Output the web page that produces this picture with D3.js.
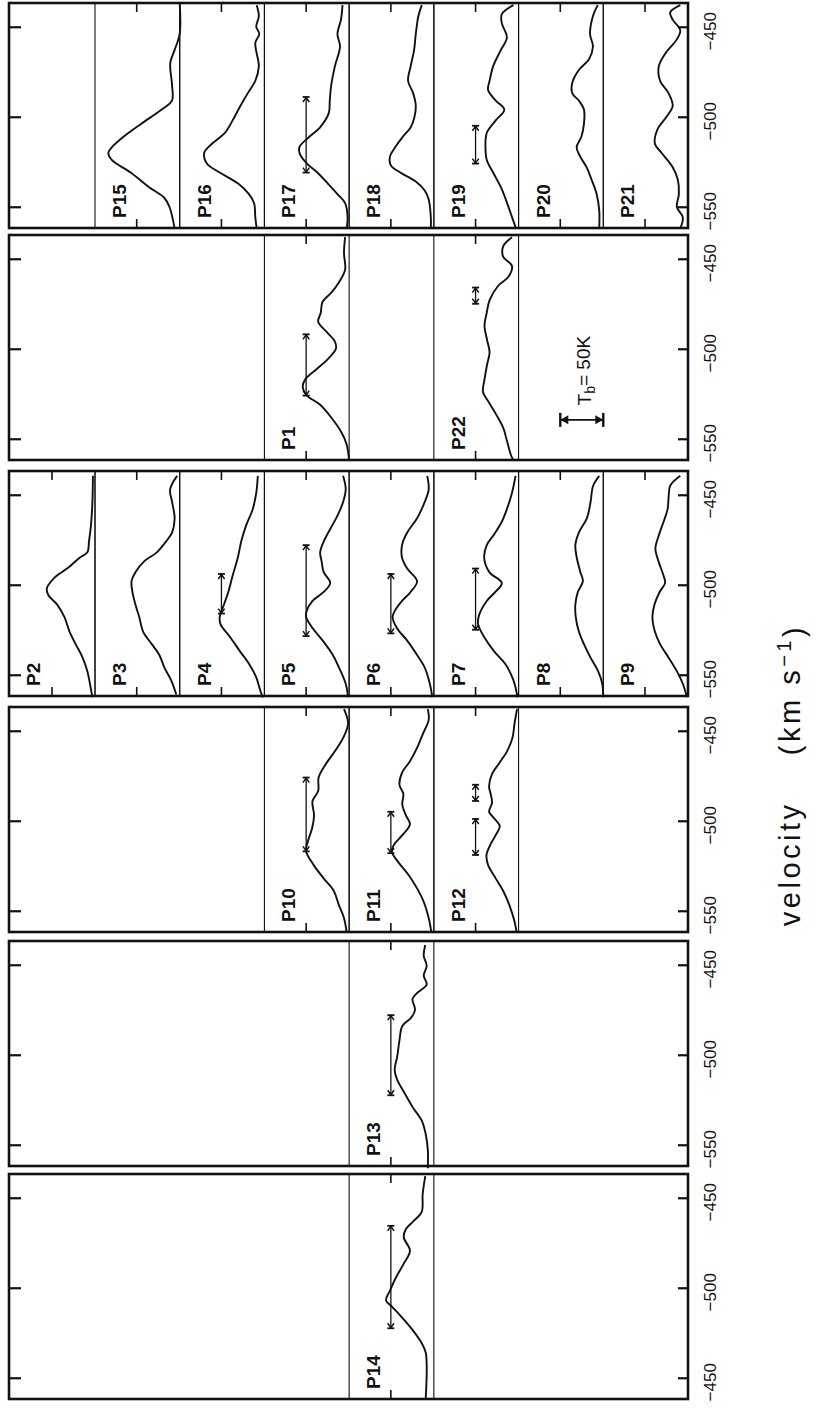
<!DOCTYPE html>
<html><head><meta charset="utf-8">
<script src="https://cdn.jsdelivr.net/npm/d3@7"></script>
<style>body{margin:0;background:#fff}svg{display:block}</style>
</head><body><svg id="c" width="817" height="1408"></svg>
<script>
// ---------- DATA : [velocity km/s, Tb K] ----------
const p1  = [[-438,4.7],[-447,6],[-456,4.7],[-463,11.8],[-469,21],[-474,31],[-480,33],[-485,36],[-491,25.4],[-496,16.6],[-500,15.4],[-506,25.4],[-511,37],[-517,51],[-521,54],[-526,49],[-531,34],[-539,19.5],[-546,9.5],[-553,3],[-562,0]];
const p2  = [[-439.5,2.4],[-454,3],[-467,4.7],[-476,7],[-482,8.9],[-485,17.8],[-491,32.5],[-496,47],[-502,56],[-506,54],[-511,44],[-518,35.5],[-526,29.6],[-533,22.5],[-540,14.8],[-548,8.9],[-555,5.9],[-562.5,3]];
const p3  = [[-439.5,3],[-447,11.2],[-454,8.9],[-463,5.9],[-471,8.9],[-476,16],[-482,26.6],[-487,41.4],[-493,51.5],[-498,56],[-504,55],[-511,51.5],[-518,47],[-526,42.6],[-533,32.5],[-539,23.7],[-546,17.8],[-553,10],[-561,4]];
const p4  = [[-439.5,7.7],[-449,9.5],[-458,13.6],[-467,21.3],[-476,27],[-485,31],[-495,37],[-504,42],[-511,47],[-518,52],[-522,51],[-529,40],[-537,28.4],[-544,17.8],[-551.5,9.5],[-559,4.7],[-562.5,1.8]];
const p5  = [[-439.5,7],[-447,4],[-454,7],[-462,14],[-469,22],[-476,29.6],[-482,33.7],[-487,32],[-493,29.6],[-499,22],[-504,29.6],[-509,42.6],[-515,49.7],[-518,50],[-524,42.6],[-531,30.8],[-539,19],[-546,11.8],[-555,4],[-562.5,1.2]];
const p6  = [[-439.5,7.7],[-447,6],[-454,10.6],[-463,19.5],[-471,31],[-478,37],[-485,37],[-491,31],[-498,19.5],[-504,27],[-509,37],[-515,46],[-518,48],[-524,43],[-531,31],[-539,19.5],[-546,10.6],[-555,4.7],[-562.5,1.8]];
const p7  = [[-439.5,3.5],[-449,7.7],[-458,13.6],[-465,19.5],[-472,28.4],[-478,37],[-485,40],[-493,34],[-499,19.5],[-504,27],[-509,37],[-517,46],[-522,47],[-529,40],[-537,28.4],[-544,15.4],[-553,6],[-562.5,1.2]];
const p8  = [[-439.5,4.7],[-445,11.8],[-454,14.8],[-463,19],[-471,28.4],[-478,32.5],[-485,30.8],[-493,26.6],[-498,23.7],[-504,29.6],[-511,32.5],[-518,32],[-526,28.4],[-533,22.5],[-540.5,14.8],[-548,6],[-555,1.2],[-562.5,0]];
const p9  = [[-439.5,9],[-445,20.7],[-451,22.5],[-458,23.7],[-465,28.4],[-473,34.3],[-480,37.9],[-487,34.3],[-495,28.4],[-499,26.6],[-504,33],[-511,39],[-518,41.4],[-526,38.5],[-533,32.5],[-540.5,22.5],[-548,13],[-555,6],[-562.5,1.2]];
const p10 = [[-438,6],[-446,1.2],[-454,7],[-461,16],[-469,27.8],[-476,35.5],[-483.5,36],[-489,42.6],[-497,40.8],[-504,43],[-511.5,48],[-517,50],[-524.5,41.4],[-532,29.6],[-539,17.8],[-547,11.8],[-554,6],[-561.7,3]];
const p11 = [[-438,7],[-444,6],[-452,13],[-459,19],[-467,27.8],[-473,36.7],[-480,40],[-485,35.5],[-491,36.7],[-497,32.5],[-502,27.8],[-508,36.7],[-513,46],[-517,49],[-523,41.4],[-530,29.6],[-538,19],[-545,11.8],[-554,6],[-561.7,3]];
const p12 = [[-438,1.8],[-446,4.7],[-453.7,7],[-461,13],[-468,22.5],[-474,30.8],[-481,34.3],[-485,32.5],[-490,30.8],[-495,34.3],[-498,29.6],[-503,21.9],[-508,26.6],[-513,32.5],[-519,37.3],[-524.5,35.5],[-532,26.6],[-539,17.8],[-547,10.6],[-556,4.7],[-561.7,2.4]];
const p13 = [[-439,10],[-445,11.8],[-450.6,8.3],[-456,11.8],[-461,8.3],[-465.5,19],[-469,24.8],[-475,21.9],[-479.5,26.6],[-484,36.7],[-492,40],[-501,42.6],[-508.5,45.6],[-514,42.6],[-521.6,33.7],[-529,24.8],[-536.5,14.2],[-544,9.5],[-553,7],[-563,7]];
const p14 = [[-438,10],[-448,13],[-458,14.2],[-463,23.7],[-467.4,32.5],[-472,35],[-479.4,27.8],[-487,35.5],[-494,43.8],[-501.4,50.9],[-507,55.6],[-510.6,48.5],[-516,37.9],[-523.4,24.8],[-530.7,14.2],[-536,9.5],[-545,8.3],[-562,9.5]];
const p15 = [[-437,0],[-454,0],[-463,6],[-470,11],[-482,9],[-491,9],[-496,21],[-504,45],[-511,65],[-517,79],[-520,83],[-524,79],[-531,57],[-539,36],[-545,18],[-550,12],[-557,8],[-562,6]];
const p16 = [[-438,9],[-444,6.5],[-450,9.5],[-454,6],[-459,10.6],[-472,6.5],[-480,10.6],[-487,19.5],[-494,28],[-502,37],[-509,46],[-515,61],[-520,70],[-526,67],[-531,52],[-537,31],[-543,18],[-548,12],[-556,10.6],[-562,9]];
const p17 = [[-438,7.7],[-446,9.5],[-454,13.6],[-461,10.6],[-472,16.6],[-483,21],[-491,22.5],[-498,23.7],[-506,34],[-511,46],[-517,58],[-521,57],[-526,49],[-531,37],[-537,25],[-543,13.6],[-548,4.7],[-556,1.8],[-562,3]];
const p18 = [[-438,14],[-444,18],[-454,21],[-463,23],[-472,27],[-480,30],[-487,24],[-494,21],[-500,22.5],[-506,27],[-511,36],[-517,45],[-522,51],[-527,50],[-531,39],[-536,21],[-541,10.6],[-546,6],[-556,3.5],[-562,3.5]];
const p19 = [[-438,6],[-443,19.5],[-448,19.5],[-456,13.6],[-463,20.7],[-472,29.6],[-480,33.7],[-485,35.5],[-491,26.6],[-496,16.6],[-502,26.6],[-509,37],[-517,38.5],[-524,37],[-531,29.6],[-539,20.7],[-546,14.8],[-554,8.9],[-562,3]];
const p20 = [[-438,6.5],[-444,12],[-454,15.4],[-461,12],[-468,16.6],[-474,28.4],[-481,36],[-487,36],[-491,28.4],[-496,22.5],[-504,22.5],[-511,25.4],[-517,31],[-522,27],[-528,19.5],[-535,13.6],[-543,7.7],[-552,4.7],[-562,4.7]];
const p21 = [[-438,9],[-442,20.7],[-446,17.8],[-452,9],[-457,13],[-465,26.6],[-472,34],[-480,32.5],[-487,22.5],[-494,17.8],[-500,25],[-507,35.5],[-515,38.5],[-520,30.8],[-528,17.8],[-535,11.8],[-543,10.6],[-550,13],[-556,6],[-562,9]];
const p22 = [[-438,7.7],[-443,17.8],[-449,17.8],[-454,7.7],[-460,11.8],[-465,23.7],[-473,33.7],[-480,37],[-487,39.6],[-495,36.7],[-502,33.7],[-509,36.7],[-517,39.6],[-524,41.4],[-529,35.5],[-537,25.4],[-544,17.8],[-551,13.6],[-559,8.9],[-562,6]];

// velocity ranges marked on the spectra (drawn at the 50 K level)
const velocityRanges = {
  P1:[[-492,-526]], P4:[[-494,-516]], P5:[[-478,-528.5]], P6:[[-494,-527]], P7:[[-491,-525]],
  P10:[[-476,-517]], P11:[[-495,-518]], P12:[[-480,-489],[-499,-519]], P13:[[-478,-522.5]],
  P14:[[-465.6,-522.5]], P17:[[-489,-531]], P19:[[-505,-526]], P22:[[-466,-475]]
};

// spectrum names, panel (0 = top of page) and row slot inside the panel
const names  = ["P15","P16","P17","P18","P19","P20","P21","P1","P22","P2","P3","P4","P5","P6","P7","P8","P9","P10","P11","P12","P13","P14"];
const series = [p15,p16,p17,p18,p19,p20,p21,p1,p22,p2,p3,p4,p5,p6,p7,p8,p9,p10,p11,p12,p13,p14];
const panel  = [0,0,0,0,0,0,0,1,1,2,2,2,2,2,2,2,2,3,3,3,4,5];
const slot   = [1,2,3,4,5,6,7,3,5,0,1,2,3,4,5,6,7,3,4,5,4,4];

const velocityTicks = [-450,-500,-550];
const tickLabels = [
  ["\u2212450","\u2212500","\u2212550"],
  ["\u2212450","\u2212500","\u2212550"],
  ["\u2212450","\u2212500","\u2212550"],
  ["\u2212450","\u2212500","\u2212550"],
  ["\u2212450","\u2212500","\u2212550"],
  ["\u2212450","\u2212500","\u2212450"]
];
const scaleBar = {panel:1, slot:6, velocity:-539.5, tb:50, label:"50K"};

// ---------- LAYOUT ----------
const svg = d3.select('#c');
const panelTop = [3, 235, 471, 707, 941, 1174];
const panelH = 225, boxL = 9, boxR = 688;
const FONT = "'Liberation Sans', Arial, Helvetica, sans-serif";

const y = d3.scaleLinear().domain([-436.8, -561.8]).range([0, panelH]);
const slotX = d3.scaleLinear().domain([0, 7]).range([95, 688]);
const tbW = d3.scaleLinear().domain([0, 50]).range([0, 43]);

const line = d3.line().curve(d3.curveCatmullRom.alpha(0.5));

for (let c = 0; c < 6; c++) {
  const g = svg.append('g').attr('transform', `translate(0,${panelTop[c]})`);
  const idx = d3.range(names.length).filter(i => panel[i] === c);

  // row lines
  idx.forEach(i => {
    const s = slot[i], base = slotX(s), left = s === 0 ? boxL : slotX(s - 1);
    [left, base].forEach(xx => {
      if (xx > boxL + 1) g.append('line').attr('x1', xx).attr('x2', xx).attr('y1', 0).attr('y2', panelH)
        .attr('stroke', '#111').attr('stroke-width', 1.1);
    });
    const tx = base - tbW(50);
    g.append('line').attr('x1', tx).attr('x2', tx).attr('y1', 0).attr('y2', 9).attr('stroke', '#111').attr('stroke-width', 1.6);
    g.append('line').attr('x1', tx).attr('x2', tx).attr('y1', panelH - 9).attr('y2', panelH).attr('stroke', '#111').attr('stroke-width', 1.6);
  });

  // velocity axis ticks (left, inward)
  const axL = g.append('g').attr('transform', `translate(${boxL},0)`)
    .call(d3.axisLeft(y).tickValues(velocityTicks).tickSize(-12).tickFormat(''));
  axL.select('.domain').remove();
  axL.selectAll('.tick line').attr('stroke', '#111').attr('stroke-width', 2.2);

  // velocity axis ticks + labels (right)
  const axR = g.append('g').attr('transform', `translate(${boxR},0)`)
    .call(d3.axisRight(y).tickValues(velocityTicks).tickSize(-10).tickFormat((d, k) => tickLabels[c][k]));
  axR.select('.domain').remove();
  axR.selectAll('.tick line').attr('stroke', '#111').attr('stroke-width', 2.2);
  axR.selectAll('.tick text').attr('x', null).attr('dy', null)
    .attr('transform', 'translate(28,4) rotate(-90)').attr('text-anchor', 'middle')
    .attr('font-family', FONT).attr('font-size', 17).attr('fill', '#111');

  // spectra
  idx.forEach(i => {
    const base = slotX(slot[i]);
    g.append('path').attr('d', line(series[i].map(d => [base - tbW(d[1]), y(d[0])])))
      .attr('fill', 'none').attr('stroke', '#111').attr('stroke-width', 1.9).attr('stroke-linejoin', 'round');
    // label
    const left = slot[i] === 0 ? boxL : slotX(slot[i] - 1);
    g.append('text').attr('transform', `translate(${left + 31},${panelH - 10}) rotate(-90)`)
      .attr('font-family', FONT).attr('font-weight', 'bold').attr('font-size', 19).attr('fill', '#111')
      .text(names[i]);
    // velocity ranges
    (velocityRanges[names[i]] || []).forEach(r => {
      const bx = base - tbW(50), y1 = y(r[0]), y2 = y(r[1]);
      g.append('line').attr('x1', bx).attr('x2', bx).attr('y1', y1).attr('y2', y2).attr('stroke', '#111').attr('stroke-width', 1.3);
      [[y1, 1], [y2, -1]].forEach(([yy, dir]) => {
        g.append('line').attr('x1', bx - 3.5).attr('x2', bx + 3.5).attr('y1', yy).attr('y2', yy).attr('stroke', '#111').attr('stroke-width', 1.8);
        g.append('path').attr('d', `M${bx - 3.2},${yy + dir * 5}L${bx},${yy + dir * 0.5}L${bx + 3.2},${yy + dir * 5}`)
          .attr('fill', 'none').attr('stroke', '#111').attr('stroke-width', 1.5);
      });
    });
  });

  // Tb scale bar
  if (scaleBar.panel === c) {
    const b0 = slotX(scaleBar.slot), b1 = b0 - tbW(scaleBar.tb), yy = y(scaleBar.velocity);
    g.append('line').attr('x1', b1).attr('x2', b0).attr('y1', yy).attr('y2', yy).attr('stroke', '#111').attr('stroke-width', 1.8);
    [b0, b1].forEach((xx, k) => {
      g.append('line').attr('x1', xx).attr('x2', xx).attr('y1', yy - 7).attr('y2', yy + 7).attr('stroke', '#111').attr('stroke-width', 2.4);
      const d = k === 0 ? -1 : 1;
      g.append('path').attr('d', `M${xx},${yy}L${xx + d * 8},${yy - 4.5}L${xx + d * 8},${yy + 4.5}Z`).attr('fill', '#111');
    });
    const t = g.append('text').attr('transform', `translate(${b0 - 12},${y(scaleBar.velocity + 8)}) rotate(-90)`)
      .attr('font-family', FONT).attr('font-size', 19).attr('fill', '#111');
    t.append('tspan').text('T');
    t.append('tspan').attr('dy', '0.3em').attr('font-size', 14).text('b');
    t.append('tspan').attr('dy', '-0.3em').text('= ' + scaleBar.label);
  }

  // box
  g.append('rect').attr('x', boxL).attr('y', 0).attr('width', boxR - boxL).attr('height', panelH)
    .attr('fill', 'none').attr('stroke', '#111').attr('stroke-width', 2.6);
}

// axis title
const title = svg.append('text').attr('transform', 'translate(800,775) rotate(-90)')
  .attr('text-anchor', 'middle').attr('font-family', FONT).attr('font-size', 29)
  .attr('letter-spacing', 3.5).attr('fill', '#111').style('white-space', 'pre');
title.append('tspan').text('velocity    (km s');
title.append('tspan').attr('dy', '-0.45em').attr('font-size', 20).text('\u22121');
title.append('tspan').attr('dy', '0.45em').text(')');
</script>
</body></html>
